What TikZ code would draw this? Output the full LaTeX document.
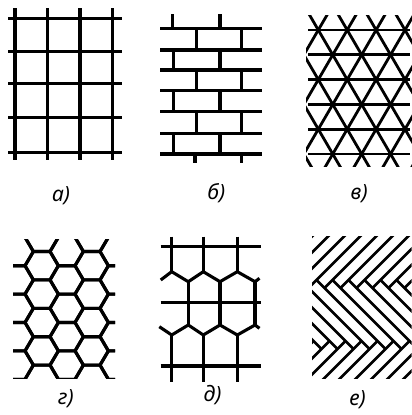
\documentclass[tikz,border=0pt]{standalone}
\usepackage{fontspec}
\setmainfont{Noto Sans}
\begin{document}
\begin{tikzpicture}[x=1pt,y=-1pt,
  ln/.style={line width=3.1pt},
  lnt/.style={line width=2.8pt},
  lne/.style={line width=2.6pt},
  lab/.style={font=\itshape\fontsize{21}{24}\selectfont, anchor=base, inner sep=0pt}]
\useasboundingbox (0,0) rectangle (412,415);

% ---- a) square grid
\foreach \x in {15,47.7,80,112.7} \draw[ln] (\x,8.3) -- (\x,160);
\foreach \y in {18.3,51.7,83.3,117.3,152.7} \draw[ln] (8.3,\y) -- (121.7,\y);

% ---- b) brick
\foreach \y in {28.3,50,70,90.7,111.7,133.3,154} \draw[ln] (160,\y) -- (261.7,\y);
\foreach \a/\b in {28.3/50,70/90.7,111.7/133.3} {
  \draw[ln] (196.7,\a) -- (196.7,\b);
  \draw[ln] (241.7,\a) -- (241.7,\b);
}
\foreach \a/\b in {50/70,90.7/111.7,133.3/154} {
  \draw[ln] (173.3,\a) -- (173.3,\b);
  \draw[ln] (220,\a) -- (220,\b);
}
\draw[ln] (172.3,14) -- (172.3,28.3);
\draw[ln] (220,14) -- (220,28.3);
\draw[ln] (195,154) -- (195,163.3);
\draw[ln] (241.7,154) -- (241.7,163.3);

% ---- v) triangular grid
\begin{scope}
  \clip (306,15) rectangle (412,166);
  \foreach \m in {-4,...,7} {
    \pgfmathsetmacro\xo{318.3+28.9*\m}
    \draw[lnt] (\xo-17.48,0) -- (\xo+87.4,180);
    \draw[lnt] (\xo+17.48,0) -- (\xo-87.4,180);
  }
  \foreach \y in {30,54.8,79.6,104.4,129.2,154} \draw[lnt] (308.3,\y) -- (410,\y);
\end{scope}

% ---- g) honeycomb
\begin{scope}
  \clip (13,239) rectangle (115,378);
  \foreach \c in {-1,...,4} {
    \foreach \k in {-2,...,5} {
      \pgfmathsetmacro\cx{41.7+25*\c}
      \pgfmathsetmacro\cy{265.7+28.4*\k+14.2*mod(\c+2,2)}
      \draw[ln, line join=round] (\cx-16.7,\cy) -- (\cx-8.35,\cy-14.2) -- (\cx+8.35,\cy-14.2)
        -- (\cx+16.7,\cy) -- (\cx+8.35,\cy+14.2) -- (\cx-8.35,\cy+14.2) -- cycle;
    }
  }
\end{scope}

% ---- d) mixed grid
\draw[ln] (160.7,246.7) -- (260.7,246.7);
\draw[ln] (160.7,302.7) -- (260.7,302.7);
\draw[ln] (160.7,366) -- (260.7,366);
\foreach \x in {171.7,203.3,237.3} {
  \draw[ln] (\x,236.7) -- (\x,271.7);
  \draw[ln] (\x,335) -- (\x,381.7);
}
\foreach \x in {188.3,220,255} \draw[ln] (\x,281.7) -- (\x,325);
\draw[ln, line join=round] (160.7,280) -- (171.7,271.7) -- (188.3,281.7) -- (203.3,271.7) -- (220,281.7)
  -- (237.3,271.7) -- (255,281.7) -- (259.5,278.3);
\draw[ln, line join=round] (159.3,326.7) -- (171.7,335) -- (188.3,325) -- (203.3,335) -- (220,325)
  -- (237.3,335) -- (255,325) -- (259.5,328.3);

% ---- e) herringbone parquet
\begin{scope}
  \clip (312,236) rectangle (411.5,378);
  \foreach \k in {-7,...,8} {
    \pgfmathsetmacro\ux{316.5+16*\k}
    \draw[lne] (\ux+60,220) -- (\ux-8,288);
    \draw[lne] (\ux,280) -- (\ux+69,349);
    \draw[lne] (\ux+61,341) -- (\ux+1,401);
  }
\end{scope}

% ---- labels
\node[lab] (la) at (61,201.5) {а)};
\node[lab] (lb) at (216.3,199) {б)};
\node[lab] (lv) at (359.2,199) {в)};
\node[lab] (lg) at (65.8,404) {г)};
\node[lab] (ld) at (212.5,401) {д)};
\node[lab] (le) at (357.5,405.5) {е)};
\end{tikzpicture}
\end{document}
